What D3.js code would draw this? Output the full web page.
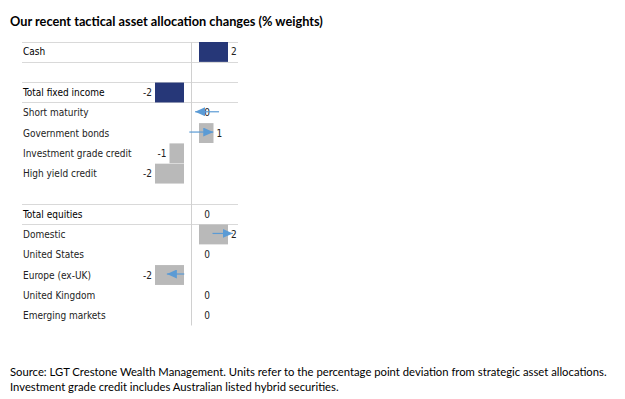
<!DOCTYPE html>
<html>
<head>
<meta charset="utf-8">
<script src="https://cdn.jsdelivr.net/npm/d3@7"></script>
<style>
  body { margin: 0; background: #fff; }
  svg { display: block; }
  .label { font-family: "Liberation Sans Narrow", "DejaVu Sans Condensed", sans-serif; font-size: 10px; fill: #222; }
  .total { fill: #000; }
  .value { font-family: "Liberation Sans Narrow", "DejaVu Sans Condensed", sans-serif; font-size: 10px; fill: #222; }
  .title { font-family: Lato, "Open Sans", sans-serif; font-weight: bold; fill: #000; }
  .source { font-family: Lato, "Open Sans", sans-serif; fill: #000; }
</style>
</head>
<body>
<div id="graphic"></div>
<script>
const WIDTH = 625;
const HEIGHT = 399;
const ZERO_X = 191.5;
const GAP = 7.5;
const UNIT = 14.5;
const TOP = 42;
const ROW = 20.25;
const LEFT = 22;
const RIGHT = 238;

const CATEGORIES = ["Cash", "", "Total fixed income", "Short maturity", "Government bonds",
  "Investment grade credit", "High yield credit", " ", "Total equities", "Domestic",
  "United States", "Europe (ex-UK)", "United Kingdom", "Emerging markets"];
const VALUES = [2, null, -2, 0, 1, -1, -2, null, 0, 2, 0, -2, 0, 0];
const TOTALS = ["Cash", "Total fixed income", "Total equities"];
const ARROW_ROWS = ["Short maturity", "Government bonds", "Domestic", "Europe (ex-UK)"];
const ARROW_FROM = [1.9, -0.15, 1.45, -0.5];
const ARROW_TO = [0.25, 1.5, 2.85, -1.7];
const TITLE = "Our recent tactical asset allocation changes (% weights)";
const SOURCE = ["Source: LGT Crestone Wealth Management. Units refer to the percentage point deviation from strategic asset allocations.",
  "Investment grade credit includes Australian listed hybrid securities."];

var svg = d3.select("#graphic")
  .append("svg")
  .attr("width", WIDTH)
  .attr("height", HEIGHT);

var rows = CATEGORIES.map((c, i) => ({ name: c, value: VALUES[i], total: TOTALS.includes(c) }));

var yScale = d3.scaleBand()
  .domain(CATEGORIES)
  .range([TOP, TOP + ROW * CATEGORIES.length])
  .paddingInner(0.02);

var xPos = d3.scaleLinear().domain([0, 2]).range([ZERO_X + GAP, ZERO_X + GAP + 2 * UNIT]);
var xNeg = d3.scaleLinear().domain([-2, 0]).range([ZERO_X - GAP - 2 * UNIT, ZERO_X - GAP]);
var xMid = d3.scaleLinear().domain([-2, 2]).range([ZERO_X - 2 * UNIT, ZERO_X + 2 * UNIT]);

// shrink / grow a text so it spans a given width
function fitText(sel, size, target) {
  sel.style("font-size", size + "px");
  var w = sel.node().getComputedTextLength();
  sel.style("font-size", (size * target / w) + "px");
}

var title = svg.append("text")
  .attr("class", "title")
  .attr("x", 10)
  .attr("y", 26)
  .text(TITLE);
fitText(title, 13, 313);

// grid lines around the totals
var gridLines = [];
rows.filter(d => d.total).forEach(d => {
  gridLines.push(yScale(d.name) - 0.5, yScale(d.name) + yScale.step() - 0.5);
});
svg.append("g")
  .selectAll("line")
  .data(gridLines)
  .enter()
  .append("line")
  .attr("x1", LEFT)
  .attr("x2", RIGHT)
  .attr("y1", d => Math.round(d) + 0.5)
  .attr("y2", d => Math.round(d) + 0.5)
  .attr("stroke", "#d9d9d9")
  .attr("stroke-width", 1);

svg.append("line")
  .attr("x1", ZERO_X)
  .attr("x2", ZERO_X)
  .attr("y1", yScale.range()[0])
  .attr("y2", yScale.range()[1])
  .attr("stroke", "#d0d0d0")
  .attr("stroke-width", 1);

var barX = d => d.value >= 0 ? xPos(0) : xNeg(d.value);
var barW = d => d.value >= 0 ? xPos(d.value) - xPos(0) : xNeg(0) - xNeg(d.value);

svg.append("g")
  .selectAll("rect")
  .data(rows.filter(d => d.value))
  .enter()
  .append("rect")
  .attr("x", barX)
  .attr("y", d => yScale(d.name))
  .attr("width", barW)
  .attr("height", yScale.bandwidth())
  .attr("fill", d => d.total ? "#263778" : "#b9b9b9");

// category labels
svg.append("g")
  .selectAll("text")
  .data(rows.filter(d => d.name.trim()))
  .enter()
  .append("text")
  .attr("class", d => d.total ? "label total" : "label")
  .attr("x", LEFT + 1)
  .attr("y", d => yScale(d.name) + yScale.bandwidth() / 2)
  .attr("dy", "0.35em")
  .text(d => d.name);

// value labels
svg.append("g")
  .selectAll("text")
  .data(rows.filter(d => d.value !== null))
  .enter()
  .append("text")
  .attr("class", "value")
  .attr("x", d => d.value > 0 ? xPos(d.value) + 3 : d.value < 0 ? xNeg(d.value) - 3 : xPos(0) + 8)
  .attr("text-anchor", d => d.value > 0 ? "start" : d.value < 0 ? "end" : "middle")
  .attr("y", d => yScale(d.name) + yScale.bandwidth() / 2)
  .attr("dy", "0.35em")
  .text(d => d.value);

// change arrows
var defs = svg.append("defs");
defs.append("marker")
  .attr("id", "head")
  .attr("viewBox", "0 0 10 9")
  .attr("refX", 10)
  .attr("refY", 4.5)
  .attr("markerWidth", 10)
  .attr("markerHeight", 9)
  .attr("markerUnits", "userSpaceOnUse")
  .attr("orient", "auto")
  .append("path")
  .attr("d", "M0,0 L10,4.5 L0,9 Z")
  .attr("fill", "#5b9bd5");

svg.append("g")
  .selectAll("line")
  .data(ARROW_ROWS.map((r, i) => ({ name: r, from: ARROW_FROM[i], to: ARROW_TO[i] })))
  .enter()
  .append("line")
  .attr("x1", d => xMid(d.from))
  .attr("x2", d => xMid(d.to))
  .attr("y1", d => yScale(d.name) + yScale.bandwidth() / 2 - 1)
  .attr("y2", d => yScale(d.name) + yScale.bandwidth() / 2 - 1)
  .attr("stroke", "#5b9bd5")
  .attr("stroke-width", 1.2)
  .attr("marker-end", "url(#head)");

// source note
var source = svg.append("g")
  .selectAll("text")
  .data(SOURCE)
  .enter()
  .append("text")
  .attr("class", "source")
  .attr("x", 10)
  .attr("y", (d, i) => 376 + i * 14.5)
  .text(d => d);
var first = source.filter((d, i) => i == 0);
first.style("font-size", "11px");
var sourceSize = 11 * 597 / first.node().getComputedTextLength();
source.style("font-size", sourceSize + "px");
</script>
</body>
</html>
